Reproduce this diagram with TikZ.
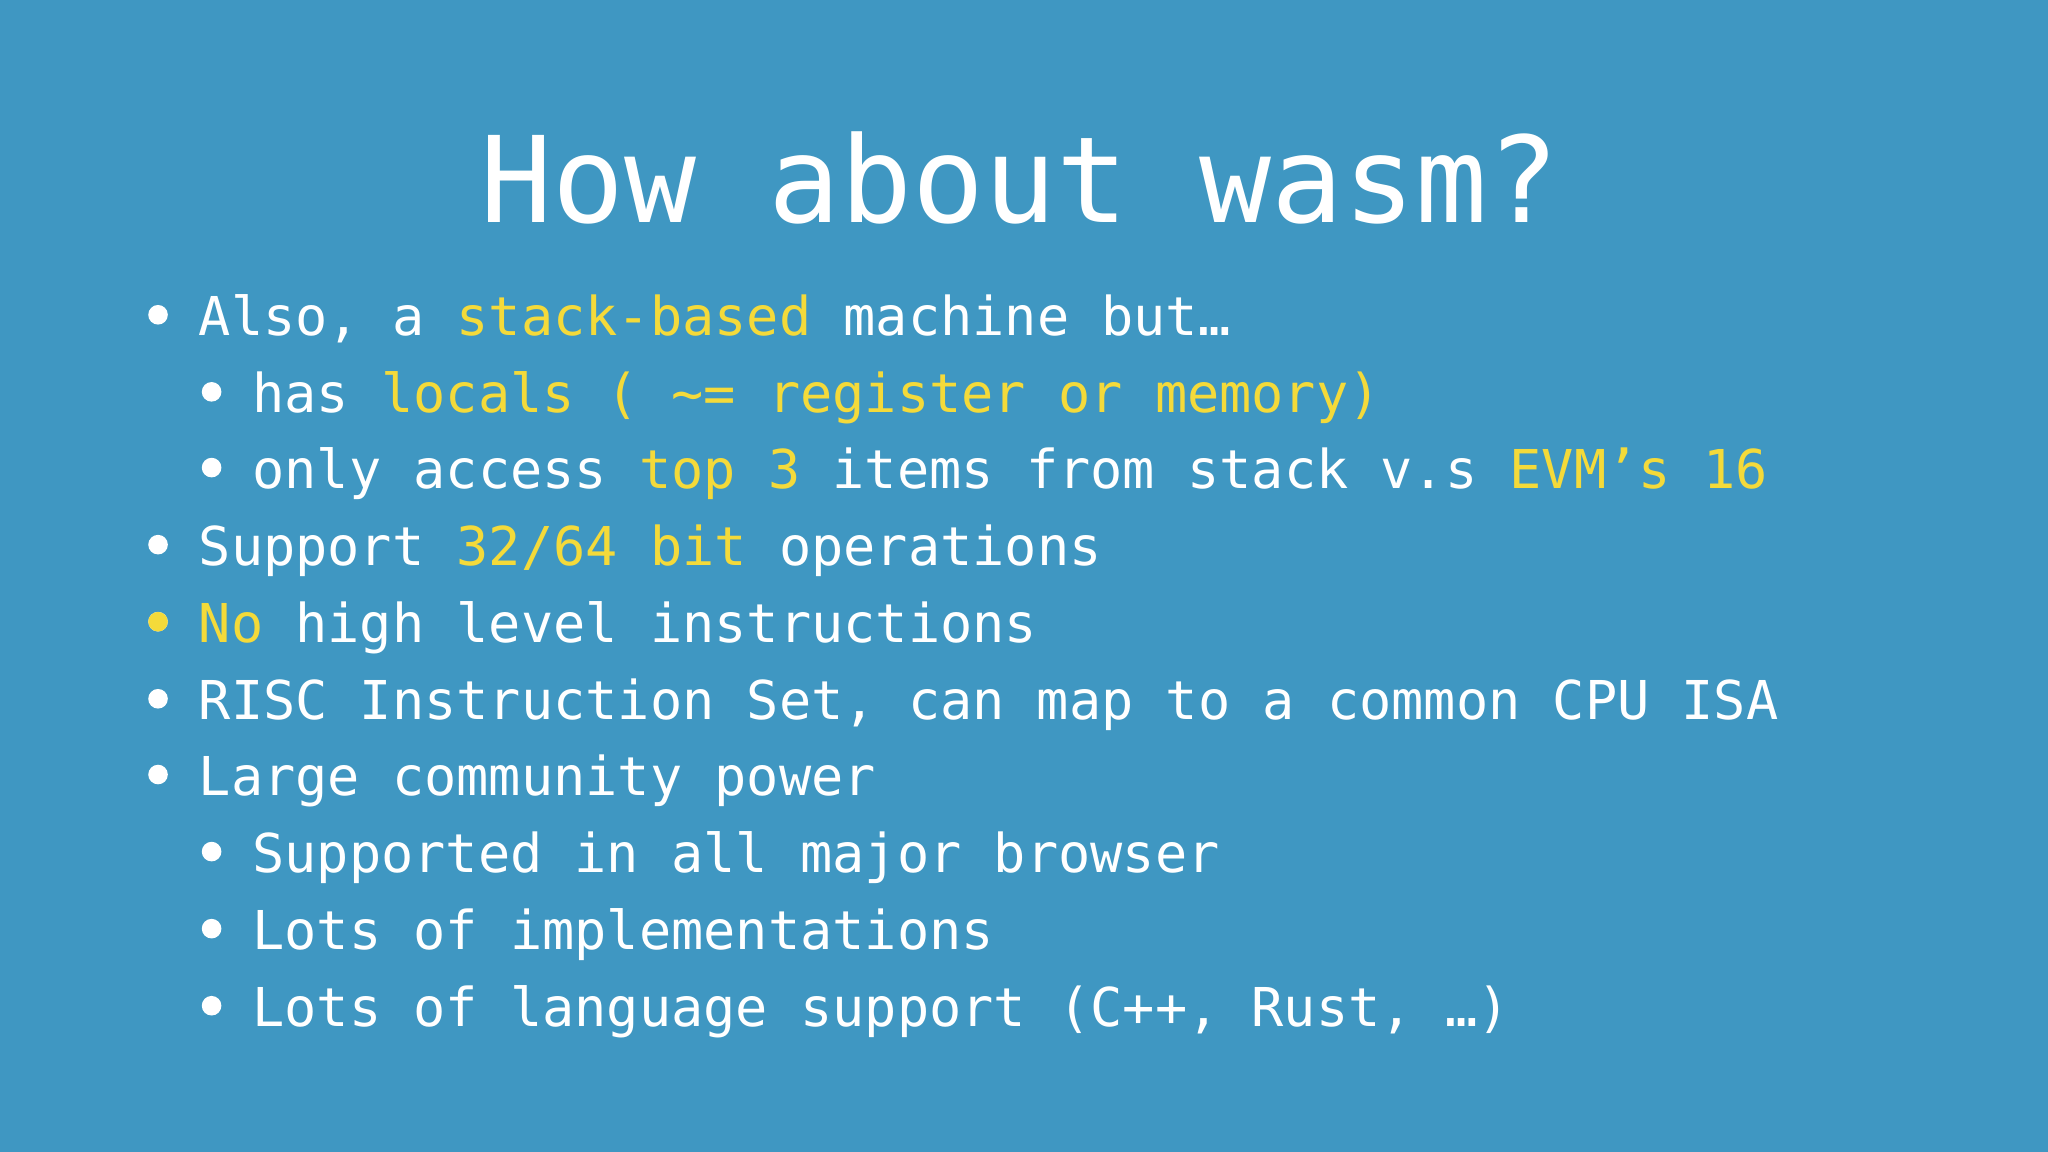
\documentclass[tikz,border=0pt]{standalone}
\usepackage{fontspec}
\setmonofont{DejaVu Sans Mono}
\setmainfont{DejaVu Sans Mono}
\definecolor{bg}{HTML}{3F97C2}
\definecolor{hl}{HTML}{F4DA3A}
\begin{document}
\begin{tikzpicture}[x=1pt,y=-1pt,
  txt/.style={anchor=base west,inner sep=0pt,text=white,font=\fontsize{41}{41}\selectfont},
  bul/.style={circle,fill=white,inner sep=0pt,minimum size=15pt}]
\fill[bg] (0,0) rectangle (1568,882);
\node[anchor=base,inner sep=0pt,text=white,font=\fontsize{91.5}{91.5}\selectfont] (title) at (781,170) {How about wasm?};
\newcommand{\Y}[1]{\textcolor{hl}{#1}}
\foreach \n/\lv/\yy/\t in {
 a/1/241/{Also, a \Y{stack-based} machine but…},
 b/2/300/{has \Y{locals ( \textasciitilde= register or memory)}},
 c/2/358/{only access \Y{top 3} items from stack v.s \Y{EVM’s 16}},
 d/1/417/{Support \Y{32/64 bit} operations},
 e/1/476/{\Y{No} high level instructions},
 f/1/535/{RISC Instruction Set, can map to a common CPU ISA},
 g/1/593/{Large community power},
 h/2/652/{Supported in all major browser},
 i/2/711/{Lots of implementations},
 j/2/770/{Lots of language support (C++, Rust, …)}}{
  \pgfmathsetmacro{\tx}{\lv==1?152:193}
  \pgfmathsetmacro{\bx}{\lv==1?121:162}
  \node[txt] (\n) at (\tx,\yy+16) {\t};
  \node[bul] (b\n) at (\bx,\yy) {};
}
\fill[hl] (be) circle (7.5pt);
\end{tikzpicture}
\end{document}
